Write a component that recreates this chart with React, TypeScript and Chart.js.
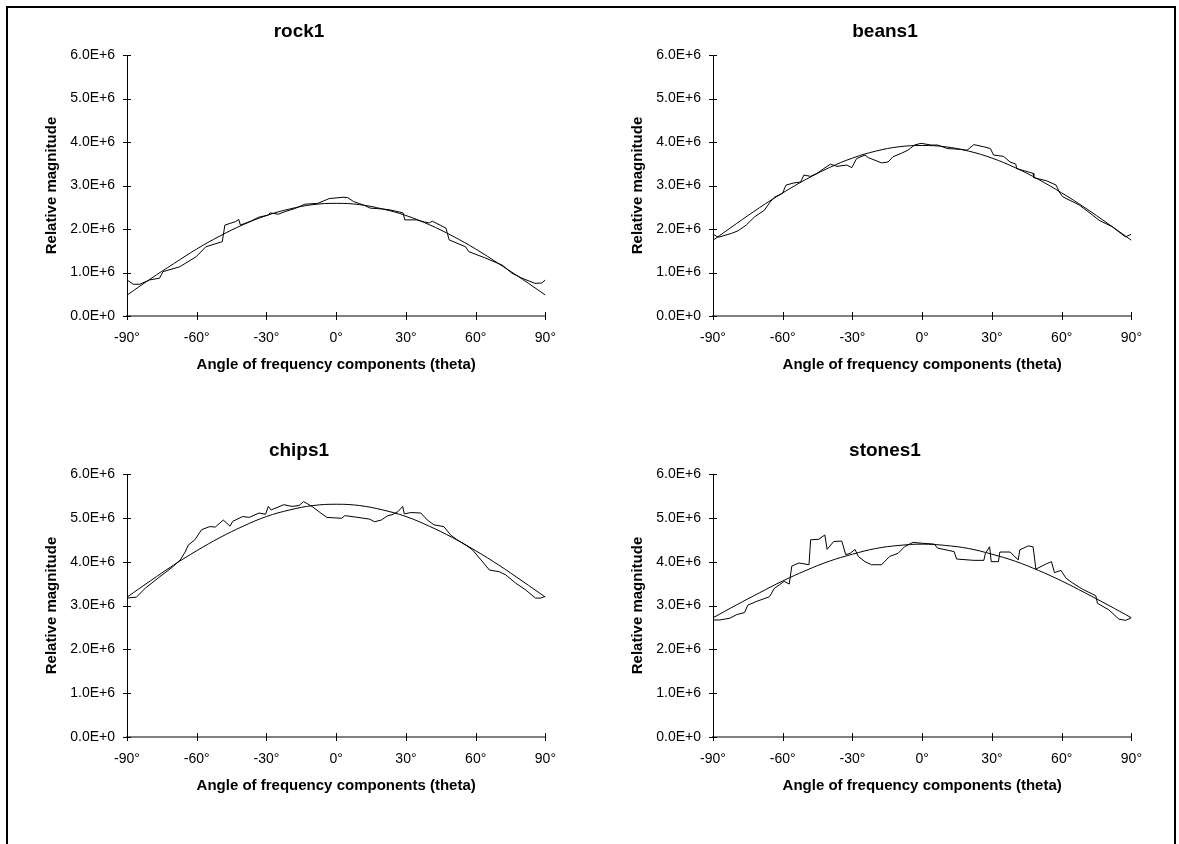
import React, { useEffect, useRef } from "react";
import { Chart, registerables } from "chart.js";

Chart.register(...registerables);

// ---- data (values in units of 1.0E+6) ----
const fitAngles = [-90, -80, -70, -60, -50, -40, -30, -20, -10, 0, 10, 20, 30, 40, 50, 60, 70, 80, 90];
const xTickLabels = ["-90°", "-60°", "-30°", "0°", "30°", "60°", "90°"];
const yTickLabels = ["0.0E+0", "1.0E+6", "2.0E+6", "3.0E+6", "4.0E+6", "5.0E+6", "6.0E+6"];

const rockAngles = [-90, -87.3, -84.5, -80.2, -76, -74.5, -67.4, -60.3, -56.1, -49, -47.9, -43.3, -41.9, -41.2, -36.3, -33.4, -29.2, -28.5, -24.9, -22, -17.8, -13.5, -7.9, -5.2, -3, 3.3, 5, 7.5, 11.8, 14.6, 20, 23.1, 28.8, 29.5, 34.5, 38, 40.1, 41.3, 45, 47.2, 48.6, 55.7, 57, 64.3, 71.4, 75.7, 79.9, 85.5, 88.4, 90];
const rockValues = [0.83, 0.73, 0.73, 0.83, 0.87, 1.02, 1.13, 1.36, 1.59, 1.71, 2.09, 2.17, 2.22, 2.09, 2.19, 2.27, 2.32, 2.37, 2.34, 2.4, 2.47, 2.57, 2.59, 2.65, 2.7, 2.73, 2.72, 2.63, 2.55, 2.48, 2.46, 2.44, 2.37, 2.21, 2.21, 2.16, 2.14, 2.18, 2.08, 2.02, 1.75, 1.59, 1.48, 1.33, 1.17, 0.98, 0.87, 0.75, 0.76, 0.83];
const rockFit = [0.48, 0.85, 1.2, 1.54, 1.84, 2.1, 2.31, 2.46, 2.56, 2.59, 2.56, 2.46, 2.31, 2.1, 1.84, 1.54, 1.2, 0.85, 0.48];

const beansAngles = [-90, -87.7, -82, -79.2, -75.7, -72.1, -67.9, -65.7, -63.6, -60.1, -58.6, -55.1, -52.3, -50.9, -48, -45.2, -42.3, -39.5, -36.7, -32.4, -30.3, -28.2, -24.6, -23.2, -20.3, -17.5, -14.7, -12.6, -9, -6.2, -3.3, -0.5, 3.8, 6.7, 10.8, 16.5, 19.3, 22.2, 26.5, 29.3, 30.7, 35, 37.8, 40.3, 40.6, 47.7, 48, 53.4, 57.6, 59, 60.5, 67.6, 73.3, 76.1, 81.8, 87.4, 90];
const beansValues = [1.88, 1.81, 1.9, 1.96, 2.09, 2.28, 2.43, 2.6, 2.73, 2.82, 3.01, 3.06, 3.08, 3.24, 3.21, 3.28, 3.39, 3.49, 3.44, 3.47, 3.41, 3.62, 3.7, 3.64, 3.58, 3.52, 3.54, 3.66, 3.74, 3.81, 3.93, 3.97, 3.93, 3.93, 3.85, 3.83, 3.81, 3.94, 3.89, 3.85, 3.7, 3.67, 3.54, 3.49, 3.39, 3.28, 3.18, 3.11, 3.01, 2.85, 2.74, 2.55, 2.32, 2.2, 2.05, 1.82, 1.88];
const beansFit = [1.74, 2.12, 2.49, 2.83, 3.14, 3.41, 3.63, 3.79, 3.89, 3.92, 3.89, 3.79, 3.63, 3.41, 3.14, 2.83, 2.49, 2.12, 1.74];

const chipsAngles = [-90, -86, -82, -76.3, -70.6, -67.1, -65, -63.6, -60.8, -57.9, -54.4, -52, -48.6, -45.7, -44.5, -40.2, -37.4, -33.2, -30.4, -29.2, -28, -22.5, -19, -16, -14, -10.4, -6.9, -4, 2.3, 3.7, 8, 14.4, 16.5, 19.4, 22.2, 24, 26.5, 28.6, 29.3, 32.1, 36.4, 39.2, 42.1, 46.3, 49.2, 52, 56.2, 58.6, 62.3, 65.9, 70.1, 72.9, 77.2, 81.4, 85.7, 88, 90];
const chipsValues = [3.17, 3.19, 3.4, 3.64, 3.87, 4.04, 4.22, 4.38, 4.5, 4.73, 4.8, 4.79, 4.95, 4.81, 4.92, 5.03, 5.01, 5.11, 5.08, 5.26, 5.18, 5.3, 5.26, 5.28, 5.37, 5.26, 5.12, 5.01, 4.99, 5.05, 5.02, 4.97, 4.91, 4.95, 5.05, 5.07, 5.14, 5.26, 5.09, 5.12, 5.11, 4.95, 4.84, 4.8, 4.61, 4.5, 4.36, 4.27, 4.04, 3.81, 3.77, 3.7, 3.51, 3.36, 3.17, 3.17, 3.21];
const chipsFit = [3.19, 3.56, 3.92, 4.25, 4.55, 4.81, 5.03, 5.18, 5.28, 5.31, 5.28, 5.18, 5.03, 4.81, 4.55, 4.25, 3.92, 3.56, 3.19];

const stonesAngles = [-90, -87, -82.8, -79.9, -76.4, -75, -71.4, -65.7, -63.6, -61.5, -59.4, -57.2, -56.1, -53, -48.7, -48, -44.5, -41.9, -40.9, -38.1, -34.6, -32.9, -31, -28.9, -27.5, -24.6, -21.8, -17.5, -14, -10.4, -7.6, -4, 0, 5.2, 6.6, 13.7, 14.8, 22.2, 26.5, 27.2, 29, 29.7, 32.8, 33.4, 37.8, 41.3, 42, 45.6, 47.7, 48.9, 53.4, 55.6, 56.9, 59.7, 61.9, 64.8, 69, 73.3, 74.7, 75.4, 80.3, 84.6, 87.5, 90];
const stonesValues = [2.67, 2.67, 2.71, 2.79, 2.84, 3.01, 3.09, 3.2, 3.39, 3.47, 3.55, 3.49, 3.9, 3.97, 3.93, 4.5, 4.51, 4.61, 4.28, 4.46, 4.47, 4.16, 4.19, 4.28, 4.12, 4.0, 3.93, 3.93, 4.12, 4.19, 4.34, 4.44, 4.42, 4.4, 4.31, 4.23, 4.06, 4.03, 4.03, 4.19, 4.34, 4.0, 4.0, 4.22, 4.22, 4.04, 4.27, 4.36, 4.34, 3.83, 3.95, 4.0, 3.75, 3.8, 3.62, 3.51, 3.37, 3.26, 3.22, 3.05, 2.9, 2.69, 2.66, 2.72];
const stonesFit = [2.72, 3.01, 3.29, 3.56, 3.8, 4.01, 4.17, 4.3, 4.37, 4.4, 4.37, 4.3, 4.17, 4.01, 3.8, 3.56, 3.29, 3.01, 2.72];

const FONT = "'Liberation Sans', Arial, sans-serif";

const crossTicks = {
  id: "crossTicks",
  afterDraw(chart: any) {
    const { ctx, scales, chartArea } = chart;
    const x = scales.x;
    const y = scales.y;
    ctx.save();
    ctx.strokeStyle = "#000";
    ctx.lineWidth = 1;
    ctx.beginPath();
    x.ticks.forEach((t: any) => {
      const px = Math.round(x.getPixelForValue(t.value)) + 0.5;
      ctx.moveTo(px, chartArea.bottom - 4);
      ctx.lineTo(px, chartArea.bottom + 4);
    });
    y.ticks.forEach((t: any) => {
      const py = Math.round(y.getPixelForValue(t.value)) + 0.5;
      ctx.moveTo(chartArea.left - 4, py);
      ctx.lineTo(chartArea.left + 4, py);
    });
    ctx.stroke();
    ctx.restore();
  },
};

type PanelProps = {
  title: string;
  left: number;
  top: number;
  height: number;
  angles: number[];
  values: number[];
  fit: number[];
};

const W = 542;

function Panel({ title, left, top, height, angles, values, fit }: PanelProps) {
  const ref = useRef<HTMLCanvasElement>(null);
  useEffect(() => {
    const chart = new Chart(ref.current as HTMLCanvasElement, {
      type: "line",
      data: {
        datasets: [
          {
            data: angles.map((a, i) => ({ x: a, y: values[i] })),
            borderColor: "#000",
            borderWidth: 1,
            pointRadius: 0,
            tension: 0,
          },
          {
            data: fitAngles.map((a, i) => ({ x: a, y: fit[i] })),
            borderColor: "#000",
            borderWidth: 1,
            pointRadius: 0,
            tension: 0.4,
          },
        ],
      },
      options: {
        animation: false,
        responsive: false,
        layout: { padding: { left: 20, right: 20, top: 0, bottom: 4 } },
        plugins: {
          legend: { display: false },
          tooltip: { enabled: false },
          title: {
            display: true,
            text: title,
            color: "#000",
            font: { family: FONT, size: 19, weight: "bold" },
            padding: { top: 12, bottom: 12.2 },
          },
        },
        scales: {
          x: {
            type: "linear",
            min: -90,
            max: 90,
            grid: { display: false, drawTicks: false },
            border: { display: true, color: "#808080", width: 2 },
            ticks: {
              stepSize: 30,
              padding: 14,
              color: "#000",
              maxRotation: 0,
              autoSkip: false,
              font: { family: FONT, size: 14 },
              callback: (v: any) => xTickLabels[Math.round((Number(v) + 90) / 30)] ?? "",
            },
            title: {
              display: true,
              text: "Angle of frequency components (theta)",
              color: "#000",
              font: { family: FONT, size: 15, weight: "bold" },
              padding: { top: 0, bottom: 4 },
            },
            afterFit: (s: any) => {
              s.height = 62;
            },
          },
          y: {
            type: "linear",
            min: 0,
            max: 6,
            grid: { display: false, drawTicks: false },
            border: { display: true, color: "#000", width: 1 },
            ticks: {
              stepSize: 1,
              padding: 12,
              color: "#000",
              font: { family: FONT, size: 14 },
              callback: (v: any) => yTickLabels[Math.round(Number(v))] ?? "",
            },
            title: {
              display: true,
              text: "Relative magnitude",
              color: "#000",
              font: { family: FONT, size: 15, weight: "bold" },
              padding: { top: -5.4, bottom: 0 },
            },
            afterFit: (s: any) => {
              s.width = 79;
            },
          },
        },
      } as any,
      plugins: [crossTicks],
    });
    return () => chart.destroy();
  }, []);
  return (
    <canvas
      ref={ref}
      width={W}
      height={height}
      style={{ position: "absolute", left, top, width: W, height, display: "block" }}
    />
  );
}

export default function App() {
  return (
    <div
      style={{
        position: "absolute",
        left: 0,
        top: 0,
        width: 1179,
        height: 844,
        overflow: "hidden",
        background: "#fff",
      }}
    >
      <div
        style={{
          position: "absolute",
          left: 6,
          top: 6,
          width: 1170,
          height: 880,
          border: "2px solid #000",
          boxSizing: "border-box",
        }}
      />
      <Panel title="rock1" left={28} top={8} height={374} angles={rockAngles} values={rockValues} fit={rockFit} />
      <Panel title="beans1" left={614} top={8} height={374} angles={beansAngles} values={beansValues} fit={beansFit} />
      <Panel title="chips1" left={28} top={427} height={376} angles={chipsAngles} values={chipsValues} fit={chipsFit} />
      <Panel title="stones1" left={614} top={427} height={376} angles={stonesAngles} values={stonesValues} fit={stonesFit} />
    </div>
  );
}
